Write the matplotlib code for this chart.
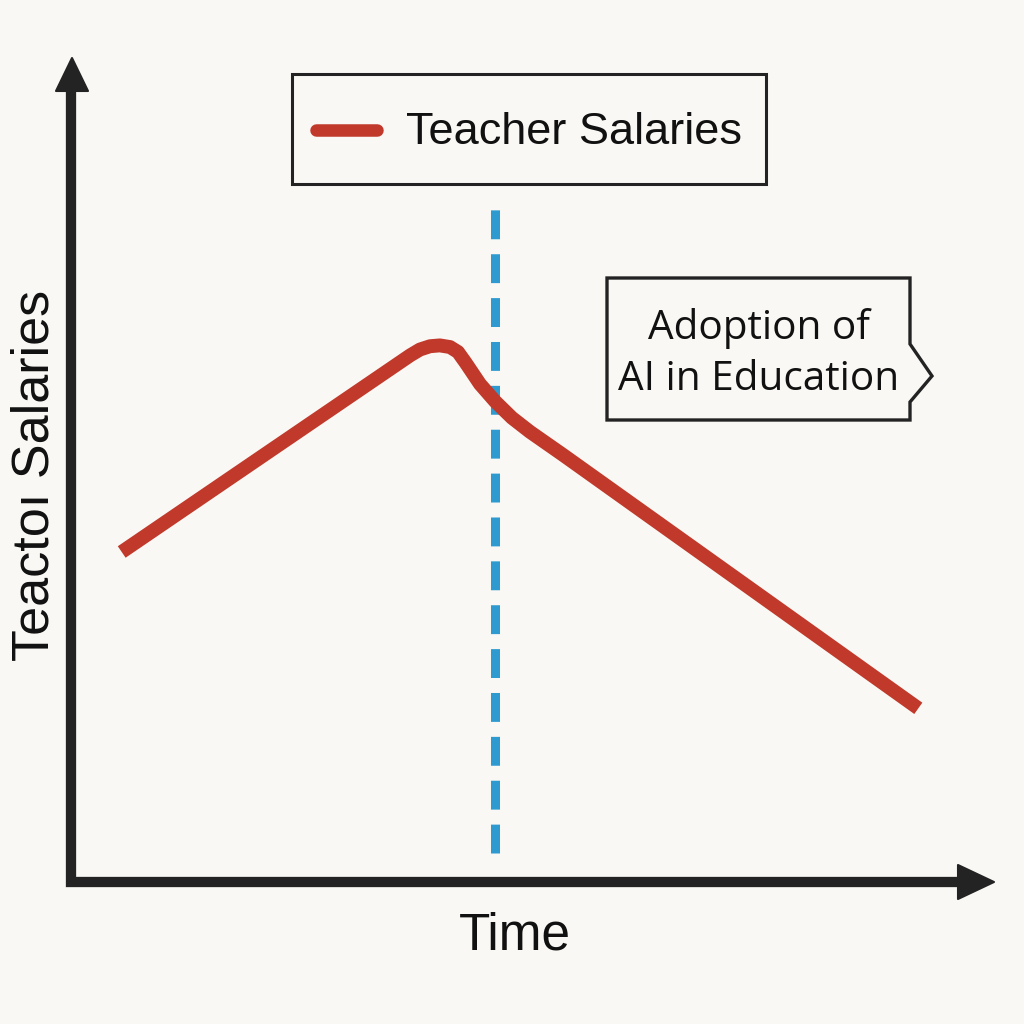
import matplotlib
matplotlib.use("Agg")
import matplotlib.pyplot as plt
from matplotlib.patches import Polygon
from matplotlib.lines import Line2D

# ---- data ----
time = [0.55, 3.68, 3.785, 3.894, 4.00, 4.111, 4.197, 4.28, 4.436, 4.60, 4.783, 4.978, 5.336, 9.19]
salary = [4.01, 6.40, 6.47, 6.51, 6.52, 6.50, 6.44, 6.31, 6.05, 5.84, 5.64, 5.47, 5.19, 2.11]
series_label = "Teacher Salaries"
adoption_time = 4.60
adoption_span = [0.35, 8.21]
callout_text = "Adoption of\nAI in Education"
x_label = "Time"
y_label = "Teactoı Salaries"

BG = "#FAF8F4"
RED = "#C0392B"
BLUE = "#2E9AD0"
DARK = "#232323"
TXT = "#111111"

W = H = 1024
fig = plt.figure(figsize=(10.24, 10.24), dpi=100, facecolor=BG)

def fx(px):
    return px / W

def fy(py):
    return 1 - py / H

# axes: left x=71, right (arrow tip) 993; bottom y=882, top (arrow tip) 59
ax = fig.add_axes([fx(71), fy(882), fx(993) - fx(71), fy(59) - fy(882)])
ax.set_facecolor(BG)
ax.set_xlim(0, 10)
ax.set_ylim(0, 10)
for s in ax.spines.values():
    s.set_visible(False)
ax.set_xticks([])
ax.set_yticks([])

# axis lines (L shape) and arrowheads, in figure coordinates
L = Line2D([fx(71), fx(71), fx(962)], [fy(88), fy(882), fy(882)],
           transform=fig.transFigure, color=DARK, lw=7.4,
           solid_joinstyle="miter", solid_capstyle="butt")
fig.add_artist(L)
head_y = Polygon([[fx(72), fy(58)], [fx(56), fy(91)], [fx(88), fy(91)]],
                 closed=True, transform=fig.transFigure, facecolor=DARK,
                 edgecolor=DARK, lw=1.5, joinstyle="round")
head_x = Polygon([[fx(994), fy(882)], [fx(958), fy(865)], [fx(958), fy(899)]],
                 closed=True, transform=fig.transFigure, facecolor=DARK,
                 edgecolor=DARK, lw=1.5, joinstyle="round")
fig.add_artist(head_y)
fig.add_artist(head_x)

# dashed vertical line
ax.plot([adoption_time, adoption_time], adoption_span, color=BLUE, lw=6.5,
        ls=(0, (3.2, 1.66)), dash_capstyle="butt", zorder=2)

# salary line
line, = ax.plot(time, salary, color=RED, lw=10, solid_capstyle="butt",
                solid_joinstyle="round", zorder=3, label=series_label)

# legend
leg = fig.legend(handles=[line], labels=[series_label], loc="center",
                 bbox_to_anchor=(fx((290 + 768) / 2), fy((73 + 185) / 2)),
                 bbox_transform=fig.transFigure,
                 prop={"family": "Liberation Sans", "size": 32.5},
                 frameon=True, fancybox=False, edgecolor=DARK,
                 facecolor=BG, framealpha=1, handlelength=1.36,
                 handletextpad=0.65, borderpad=0.53, handleheight=1.75)
leg.get_frame().set_linewidth(2.2)
hl = leg.get_lines()[0]
hl.set_solid_capstyle("round")
hl.set_linewidth(9)
hl.set_ydata([y - 7 for y in hl.get_ydata()])
for t in leg.get_texts():
    t.set_color(TXT)

# callout box
callout = Polygon([[fx(607), fy(278)], [fx(910), fy(278)], [fx(910), fy(344)],
                   [fx(932), fy(376)], [fx(910), fy(402)], [fx(910), fy(420)],
                   [fx(607), fy(420)]], closed=True, transform=fig.transFigure,
                  facecolor=BG, edgecolor=DARK, lw=2.4, joinstyle="miter")
fig.add_artist(callout)
fig.text(fx(759), fy(354), callout_text, ha="center", va="center",
         fontsize=29.2, family="Open Sans", color=TXT, linespacing=1.32)

# axis labels
fig.text(fx(515), fy(936), x_label, ha="center", va="center",
         fontsize=37, family="Liberation Sans", color=TXT)
fig.text(fx(35), fy(475), y_label, ha="center", va="center", rotation=90,
         fontsize=37.5, family="Liberation Sans", color=TXT)

fig.savefig("out.png", dpi=100, facecolor=BG)
